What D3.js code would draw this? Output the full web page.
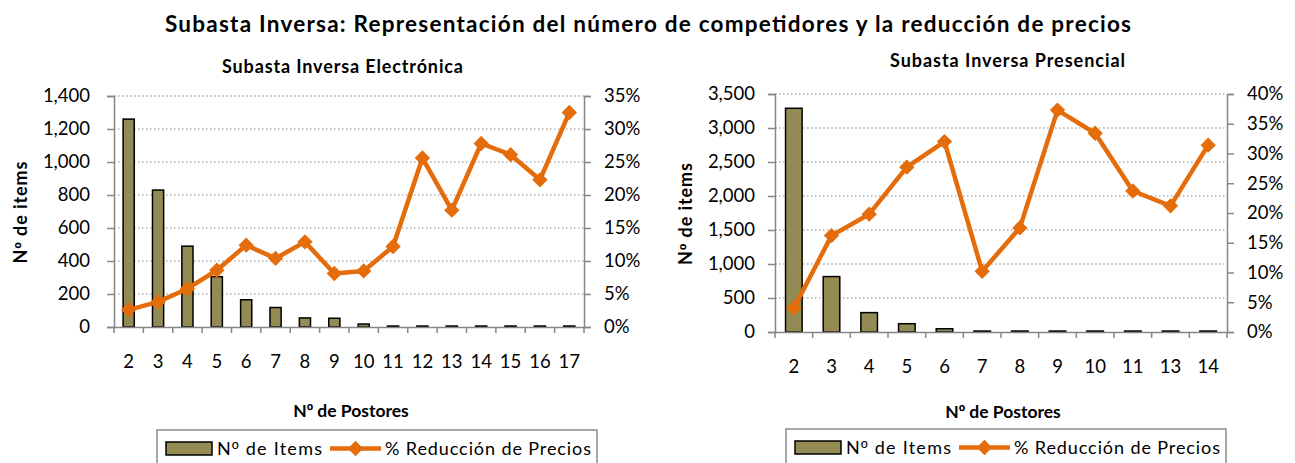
<!DOCTYPE html>
<html>
<head>
<meta charset="utf-8">
<script src="https://cdn.jsdelivr.net/npm/d3@7"></script>
<style>
  body { margin: 0; background: #fff; }
  svg { display: block; font-family: Lato, "Open Sans", sans-serif; }
</style>
</head>
<body>
<svg id="chart" width="1295" height="463"></svg>
<script>
// data
let elecPostores = ['2','3','4','5','6','7','8','9','10','11','12','13','14','15','16','17'];
let elecItems = [1260, 830, 490, 305, 165, 118, 55, 53, 18, 6, 6, 6, 6, 6, 6, 6];
let elecReduccion = [2.6, 3.8, 5.8, 8.6, 12.4, 10.4, 12.9, 8.1, 8.5, 12.2, 25.6, 17.7, 27.8, 26.1, 22.3, 32.5];
let elecItemTicks = [0, 200, 400, 600, 800, 1000, 1200, 1400];
let elecPctTicks = [0, 5, 10, 15, 20, 25, 30, 35];

let presPostores = ['2','3','4','5','6','7','8','9','10','11','13','14'];
let presItems = [3290, 815, 285, 122, 48, 14, 14, 14, 14, 14, 14, 14];
let presReduccion = [4.0, 16.2, 19.8, 27.7, 32.0, 10.2, 17.5, 37.3, 33.4, 23.7, 21.2, 31.4];
let presItemTicks = [0, 500, 1000, 1500, 2000, 2500, 3000, 3500];
let presPctTicks = [0, 5, 10, 15, 20, 25, 30, 35, 40];

let svg = d3.select('#chart');
let barFill = '#948A54';
let lineColor = '#E46C0A';
let axisColor = '#868686';

// Lato draws º like a degree sign, the underlined one comes from Liberation Sans
function ordText(sel, s) {
    let parts = s.split('º');
    sel.append('tspan').text(parts[0]);
    sel.append('tspan').attr('font-family', '"Liberation Sans", sans-serif').text('º');
    sel.append('tspan').text(parts[1]);
    return sel;
}

svg.append('text')
    .attr('x', 648)
    .attr('y', 32)
    .attr('text-anchor', 'middle')
    .attr('font-size', 22.5)
    .attr('font-weight', 'bold')
    .attr('textLength', 966)
    .attr('lengthAdjust', 'spacing')
    .text('Subasta Inversa: Representación del número de competidores y la reducción de precios');

function panel(opt) {
    let g = svg.append('g');
    let x = d3.scaleBand().domain(opt.cats).range([opt.left, opt.right]);
    let y = d3.scaleLinear().domain([0, d3.max(opt.itemTicks)]).range([opt.bottom, opt.top]);
    let y2 = d3.scaleLinear().domain([0, d3.max(opt.pctTicks)]).range([opt.bottom, opt.top]);
    let cx = (opt.left + opt.right) / 2;

    // dotted gridlines
    g.selectAll('.grid').data(opt.itemTicks.slice(1)).join('line')
        .attr('x1', opt.left).attr('x2', opt.right)
        .attr('y1', d => y(d)).attr('y2', d => y(d))
        .attr('stroke', '#8c8c8c').attr('stroke-width', 1.2)
        .attr('stroke-dasharray', '1.5,2.5');

    // bars
    let bw = x.bandwidth() * opt.barFrac;
    g.selectAll('.bar').data(opt.items).join('rect')
        .attr('x', (d, i) => x(opt.cats[i]) + (x.bandwidth() - bw) / 2)
        .attr('y', d => y(d))
        .attr('width', bw)
        .attr('height', d => opt.bottom - y(d))
        .attr('fill', barFill)
        .attr('stroke', '#000')
        .attr('stroke-width', 1.5);

    // axes
    let left = g.append('g').attr('transform', `translate(${opt.left},0)`)
        .call(d3.axisLeft(y).tickValues(opt.itemTicks).tickSize(7).tickPadding(opt.yPad).tickFormat(d3.format(',')));
    let right = g.append('g').attr('transform', `translate(${opt.right},0)`)
        .call(d3.axisRight(y2).tickValues(opt.pctTicks).tickSize(7).tickPadding(13).tickFormat(d => d + '%'));
    let bottom = g.append('g').attr('transform', `translate(0,${opt.bottom})`)
        .call(d3.axisBottom(x).tickSize(0).tickPadding(28));
    bottom.selectAll('.xtick').data(d3.range(opt.cats.length + 1)).join('line')
        .attr('x1', i => opt.left + i * x.step()).attr('x2', i => opt.left + i * x.step())
        .attr('y1', 0).attr('y2', 6)
        .attr('stroke', axisColor).attr('stroke-width', 1.5);
    [left, right, bottom].forEach(a => {
        a.selectAll('.domain').attr('stroke', axisColor).attr('stroke-width', 1.5);
        a.selectAll('.tick line').attr('stroke', axisColor).attr('stroke-width', 1.5);
        a.selectAll('text').attr('font-size', 18.5).attr('fill', '#000').attr('font-family', 'Lato, sans-serif');
    });

    // line series
    let line = d3.line().x((d, i) => x(opt.cats[i]) + x.bandwidth() / 2).y(d => y2(d));
    g.append('path').datum(opt.pct)
        .attr('d', line)
        .attr('fill', 'none')
        .attr('stroke', lineColor)
        .attr('stroke-width', 4.5)
        .attr('stroke-linejoin', 'round');
    let diamond = d3.symbol().type(d3.symbolDiamond2).size(150);
    g.selectAll('.mark').data(opt.pct).join('path')
        .attr('d', diamond)
        .attr('transform', (d, i) => `translate(${x(opt.cats[i]) + x.bandwidth() / 2},${y2(d)})`)
        .attr('fill', lineColor);

    // titles
    g.append('text')
        .attr('x', opt.subX).attr('y', opt.subY)
        .attr('text-anchor', 'middle')
        .attr('font-size', 18).attr('font-weight', 'bold')
        .attr('textLength', opt.subW).attr('lengthAdjust', 'spacing')
        .text(opt.subtitle);
    g.append('text')
        .attr('transform', `translate(${opt.yTitleX},${(opt.top + opt.bottom) / 2 + 1}) rotate(-90)`)
        .attr('text-anchor', 'middle')
        .attr('font-size', 18).attr('font-weight', 'bold')
        .attr('textLength', 102).attr('lengthAdjust', 'spacing')
        .call(ordText, 'Nº de items');
    g.append('text')
        .attr('x', cx + 2).attr('y', opt.xTitleY)
        .attr('text-anchor', 'middle')
        .attr('font-size', 17.5).attr('font-weight', 'bold')
        .call(ordText, 'Nº de Postores');

    // legend
    let lg = g.append('g').attr('transform', `translate(${opt.legX},${opt.legY})`);
    lg.append('rect')
        .attr('x', 0).attr('y', 0).attr('width', 440).attr('height', 45)
        .attr('fill', '#fff').attr('stroke', '#8c8c8c').attr('stroke-width', 1.5);
    lg.append('rect')
        .attr('x', 9).attr('y', 12).attr('width', 46).attr('height', 13)
        .attr('fill', barFill).attr('stroke', '#000').attr('stroke-width', 1.5);
    lg.append('text')
        .attr('x', 60).attr('y', 25)
        .attr('font-size', 18)
        .attr('textLength', 105).attr('lengthAdjust', 'spacing')
        .call(ordText, 'Nº de Items');
    lg.append('line')
        .attr('x1', 173).attr('x2', 224).attr('y1', 18.5).attr('y2', 18.5)
        .attr('stroke', lineColor).attr('stroke-width', 4.5);
    lg.append('path')
        .attr('d', diamond)
        .attr('transform', 'translate(198.5,18.5)')
        .attr('fill', lineColor);
    lg.append('text')
        .attr('x', 228).attr('y', 25)
        .attr('font-size', 18)
        .attr('textLength', 206).attr('lengthAdjust', 'spacing')
        .text('% Reducción de Precios');
}

panel({
    cats: elecPostores, items: elecItems, pct: elecReduccion,
    itemTicks: elecItemTicks, pctTicks: elecPctTicks,
    left: 114, right: 584, top: 96, bottom: 327, barFrac: 0.38, yPad: 17,
    subtitle: 'Subasta Inversa Electrónica', subX: 342.5, subY: 73, subW: 241,
    yTitleX: 27, xTitleY: 417,
    legX: 157, legY: 430
});

panel({
    cats: presPostores, items: presItems, pct: presReduccion,
    itemTicks: presItemTicks, pctTicks: presPctTicks,
    left: 775, right: 1227, top: 94, bottom: 332, barFrac: 0.44, yPad: 13,
    subtitle: 'Subasta Inversa Presencial', subX: 1007.5, subY: 67, subW: 235,
    yTitleX: 692, xTitleY: 418,
    legX: 786, legY: 429
});
</script>
</body>
</html>
